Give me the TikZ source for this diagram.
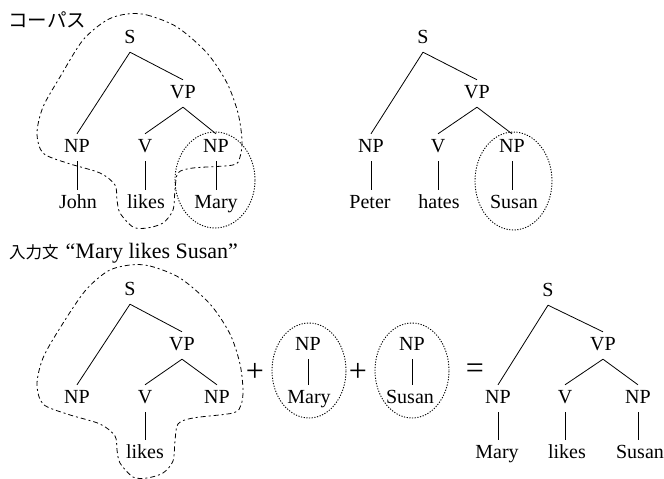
\documentclass[tikz,border=0pt]{standalone}
\usepackage{fontspec}
\setmainfont{Liberation Serif}
\newfontfamily\jp{Noto Sans CJK JP}
\begin{document}
\begin{tikzpicture}[x=1pt,y=-1pt,
  tn/.style={anchor=base, font=\fontsize{20}{22}\selectfont, inner xsep=0pt, inner ysep=5pt, text height=13pt, text depth=4pt},
  br/.style={line width=0.8pt},
  outl/.style={line width=0.8pt, dash pattern=on 5pt off 3pt on 2pt off 3pt},
  circ/.style={line width=0.9pt, dash pattern=on 1.2pt off 1.5pt},
  op/.style={anchor=center, inner sep=0pt, font=\fontsize{32}{34}\selectfont}]
\useasboundingbox (0,0) rectangle (664,479);

% labels
\node[anchor=west, inner sep=0pt, font=\jp\fontsize{19.5}{22}\selectfont] (lab1) at (8,20) {コーパス};
\node[anchor=base west, inner sep=0pt] (lab2) at (9,258) {{\jp\fontsize{16.5}{20}\selectfont 入力文}\hspace{7pt}{\fontsize{22}{24}\selectfont “Mary likes Susan”}};

% top-left tree
\node[tn] (s1) at (130,43) {S};
\node[tn] (vp1) at (183,98) {VP};
\node[tn] (np1a) at (77,152) {NP};
\node[tn] (v1) at (145,152) {V};
\node[tn] (np1b) at (216,152) {NP};
\node[tn] (w1a) at (78,208) {John};
\node[tn] (w1b) at (146,208) {likes};
\node[tn] (w1c) at (216,208) {Mary};
\draw[br] (s1.south) -- (np1a.north);
\draw[br] (s1.south) -- (vp1.north);
\draw[br] (vp1.south) -- (v1.north);
\draw[br] (vp1.south) -- (np1b.north);
\draw[br] (np1a.south) -- (np1a.south |- w1a.north);
\draw[br] (v1.south) -- (v1.south |- w1b.north);
\draw[br] (np1b.south) -- (np1b.south |- w1c.north);

% top-right tree
\node[tn] (s2) at (423,43) {S};
\node[tn] (vp2) at (477,98) {VP};
\node[tn] (np2a) at (371,152) {NP};
\node[tn] (v2) at (438,152) {V};
\node[tn] (np2b) at (512,152) {NP};
\node[tn] (w2a) at (370,208) {Peter};
\node[tn] (w2b) at (439,208) {hates};
\node[tn] (w2c) at (514,208) {Susan};
\draw[br] (s2.south) -- (np2a.north);
\draw[br] (s2.south) -- (vp2.north);
\draw[br] (vp2.south) -- (v2.north);
\draw[br] (vp2.south) -- (np2b.north);
\draw[br] (np2a.south) -- (np2a.south |- w2a.north);
\draw[br] (v2.south) -- (v2.south |- w2b.north);
\draw[br] (np2b.south) -- (np2b.south |- w2c.north);

% bottom-left tree
\node[tn] (s3) at (130,295) {S};
\node[tn] (vp3) at (182,350) {VP};
\node[tn] (np3a) at (77,403) {NP};
\node[tn] (v3) at (145,403) {V};
\node[tn] (np3b) at (217,403) {NP};
\node[tn] (w3b) at (145,458) {likes};
\draw[br] (s3.south) -- (np3a.north);
\draw[br] (s3.south) -- (vp3.north);
\draw[br] (vp3.south) -- (v3.north);
\draw[br] (vp3.south) -- (np3b.north);
\draw[br] (v3.south) -- (v3.south |- w3b.north);

% middle fragments
\node[tn] (np4) at (308,350) {NP};
\node[tn] (w4) at (309,403) {Mary};
\draw[br] (np4.south) -- (np4.south |- w4.north);
\node[tn] (np5) at (412,350) {NP};
\node[tn] (w5) at (410,403) {Susan};
\draw[br] (np5.south) -- (np5.south |- w5.north);

\node[op] (plus1) at (255,372) {+};
\node[op] (plus2) at (358,372) {+};
\node[op] (eq) at (475,371) {=};

% bottom-right tree
\node[tn] (s6) at (548,296) {S};
\node[tn] (vp6) at (603,350) {VP};
\node[tn] (np6a) at (498,403) {NP};
\node[tn] (v6) at (565,403) {V};
\node[tn] (np6b) at (638,403) {NP};
\node[tn] (w6a) at (497,458) {Mary};
\node[tn] (w6b) at (567,458) {likes};
\node[tn] (w6c) at (640,458) {Susan};
\draw[br] (s6.south) -- (np6a.north);
\draw[br] (s6.south) -- (vp6.north);
\draw[br] (vp6.south) -- (v6.north);
\draw[br] (vp6.south) -- (np6b.north);
\draw[br] (np6a.south) -- (np6a.south |- w6a.north);
\draw[br] (v6.south) -- (v6.south |- w6b.north);
\draw[br] (np6b.south) -- (np6b.south |- w6c.north);

% dotted ellipses
\draw[circ] (215,180) ellipse [x radius=40pt, y radius=48pt];
\draw[circ] (513.5,181) ellipse [x radius=38.5pt, y radius=49pt];
\draw[circ] (309,370.5) ellipse [x radius=37pt, y radius=47.5pt];
\draw[circ] (412,370.5) ellipse [x radius=37pt, y radius=47.5pt];

% dashed outlines
\draw[outl] plot[smooth cycle] coordinates {(127,14) (147,15) (177,27) (207,53) (227,83) (238,113) (242,140) (240,157) (233,165) (193,168) (178,173) (175,190) (173,210) (163,223) (147,228) (133,227) (120,213) (117,200) (115,185) (100,173) (67,163) (43,153) (37,133) (43,107) (60,77) (83,40) (107,20)};
\draw[outl] plot[smooth cycle] coordinates {(130,265) (150,266) (180,278) (210,304) (230,334) (240,364) (243,390) (241,405) (233,413) (193,418) (178,424) (175,441) (173,461) (163,473) (147,478) (133,477) (120,463) (117,450) (115,436) (100,424) (67,414) (43,404) (37,384) (43,358) (60,328) (85,291) (108,271)};
\end{tikzpicture}
\end{document}
